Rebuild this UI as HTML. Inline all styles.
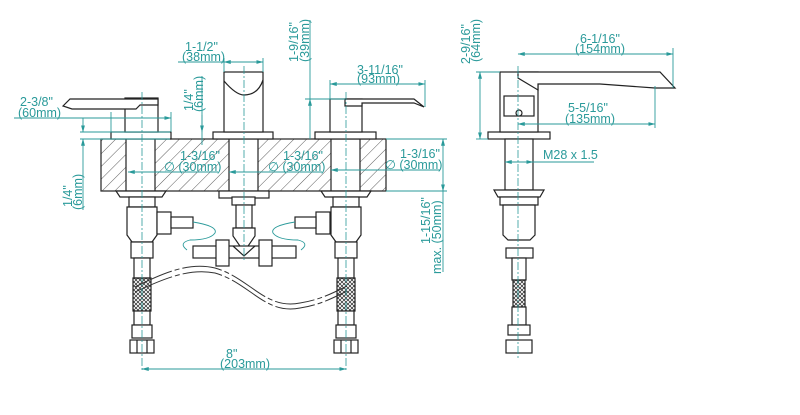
<!DOCTYPE html>
<html><head><meta charset="utf-8"><style>
html,body{margin:0;padding:0;background:#fff}
svg{display:block}
text{font-family:"Liberation Sans",sans-serif;font-size:12.5px;fill:#2a9a9a}
.d{stroke:#2a9a9a;stroke-width:0.9;fill:none}
.o{stroke:#222;stroke-width:1.2;fill:#fff}
.n{stroke:#222;stroke-width:1.2;fill:none}
.c{stroke:#2a9a9a;stroke-width:0.8;stroke-dasharray:8 2 2 2;fill:none}
</style></head><body>
<svg width="800" height="415" viewBox="0 0 800 415" xmlns="http://www.w3.org/2000/svg">
<defs>
<pattern id="h" width="9" height="9" patternUnits="userSpaceOnUse" patternTransform="rotate(45)"><line x1="0" y1="0" x2="0" y2="9" stroke="#333" stroke-width="0.8"/></pattern>
<pattern id="m" width="4" height="4" patternUnits="userSpaceOnUse"><path d="M0 0L4 4M4 0L0 4" stroke="#222" stroke-width="0.7"/></pattern>
<marker id="a" markerWidth="8" markerHeight="6" refX="7.5" refY="3" orient="auto-start-reverse"><path d="M0 0.8L8 3L0 5.2z" fill="#2a9a9a"/></marker>
</defs>
<rect x="101" y="139" width="285" height="52" fill="url(#h)" stroke="#222" stroke-width="1.2"/>
<rect x="126" y="139" width="29" height="52" class="o"/>
<rect x="229" y="139" width="29" height="52" class="o"/>
<rect x="331" y="139" width="29" height="52" class="o"/>
<rect x="111" y="132" width="60" height="7" class="o"/>
<rect x="125" y="98" width="33" height="34" class="o"/>
<path class="o" d="M63 106L70 99H158V105H140L136 109H72Z"/>
<rect x="213" y="132" width="60" height="7" class="o"/>
<rect x="224" y="72" width="39" height="60" class="o"/>
<path class="n" d="M224 81Q236 95 244 95Q258 95 263 80"/>
<rect x="315" y="132" width="61" height="7" class="o"/>
<rect x="330" y="99" width="32" height="33" class="o"/>
<path class="o" d="M345 99H414L424 107L414 103H362V106H345Z"/>
<path class="o" d="M116 191H166L162 197H120Z"/>
<path class="o" d="M321 191H371L367 197H325Z"/>
<rect x="219" y="191" width="50" height="7" class="o"/>
<g id="col">
<rect x="129" y="197" width="26" height="10" class="o"/>
<path class="o" d="M127 207H157V235L152 242H132L127 235Z"/>
<rect x="131" y="242" width="22" height="16" class="o"/>
<rect x="134" y="258" width="16" height="20" class="o"/>
<rect x="133" y="278" width="18" height="33" fill="url(#m)" stroke="#222" stroke-width="1.2"/>
<rect x="134" y="311" width="16" height="14" class="o"/>
<rect x="132" y="325" width="20" height="13" class="o"/>
<rect x="130" y="340" width="24" height="13" class="o"/>
<line class="n" x1="137" y1="340" x2="137" y2="353"/><line class="n" x1="147" y1="340" x2="147" y2="353"/>
</g>
<use href="#col" transform="translate(204,0)"/>
<rect x="157" y="212" width="14" height="22" class="o"/><rect x="171" y="217" width="22" height="11" class="o"/>
<rect x="316" y="212" width="14" height="22" class="o"/><rect x="295" y="217" width="21" height="11" class="o"/>
<rect x="232" y="197" width="23" height="8" class="o"/>
<rect x="236" y="205" width="16" height="23" class="o"/>
<path class="o" d="M233 228H255V236L244 252L233 236Z"/>
<rect x="193" y="246" width="103" height="12" class="o"/>
<rect x="216" y="240" width="13" height="26" class="o"/>
<rect x="259" y="240" width="13" height="26" class="o"/>
<path class="n" d="M233 246L244 256L255 246"/>
<path class="d" d="M193 222Q218 226 215 233Q210 240 190 240Q178 243 187 250"/>
<path class="d" d="M295 222Q270 226 273 233Q278 240 298 240Q310 243 301 250"/>
<g stroke="#333" stroke-width="1" fill="none" stroke-dasharray="40 3 5 3">
<path d="M135 287C165 272 190 262 215 268C250 278 265 310 300 303C320 300 335 292 347 286"/>
<path d="M135 292C165 278 190 268 215 273C250 283 265 315 300 308C320 305 335 297 347 291"/>
</g>
<rect x="488" y="132" width="62" height="7" class="o"/>
<rect x="500" y="72" width="38" height="60" class="o"/>
<path class="o" d="M518 72H660L675 88H655L600 84H538V90L518 78Z"/>
<rect x="504" y="96" width="30" height="20" class="o"/>
<circle cx="519" cy="113" r="3" class="o"/>
<rect x="505" y="139" width="28" height="51" class="o"/>
<path class="o" d="M494 190H544L540 197H498Z"/>
<rect x="500" y="197" width="38" height="8" class="o"/>
<path class="o" d="M503 205H535V235L530 240H508L503 235Z"/>
<rect x="506" y="248" width="27" height="10" class="o"/>
<rect x="512" y="258" width="14" height="22" class="o"/>
<rect x="513" y="280" width="12" height="27" fill="url(#m)" stroke="#222" stroke-width="1.2"/>
<rect x="512" y="307" width="14" height="18" class="o"/>
<rect x="508" y="325" width="22" height="10" class="o"/>
<rect x="506" y="340" width="26" height="13" class="o"/>
<line class="c" x1="142" y1="92" x2="142" y2="372"/>
<line class="c" x1="244" y1="66" x2="244" y2="262"/>
<line class="c" x1="346" y1="92" x2="346" y2="372"/>
<line class="c" x1="518" y1="66" x2="518" y2="360"/>
<line class="d" x1="14" y1="118" x2="171" y2="118" marker-end="url(#a)"/>
<line class="d" x1="111" y1="112" x2="111" y2="132"/><line class="d" x1="171" y1="112" x2="171" y2="132"/>
<text x="20" y="106">2-3/8"</text><text x="18" y="117">(60mm)</text>
<line class="d" x1="80" y1="132" x2="170" y2="132"/><line class="d" x1="80" y1="139" x2="170" y2="139"/>
<line class="d" x1="83" y1="118" x2="83" y2="132" marker-end="url(#a)"/>
<line class="d" x1="83" y1="210" x2="83" y2="139" marker-end="url(#a)"/>
<text transform="translate(72,207) rotate(-90)">1/4"</text><text transform="translate(82,210) rotate(-90)">(6mm)</text>
<line class="d" x1="178" y1="62" x2="263" y2="62"/>
<line class="d" x1="228" y1="62" x2="224" y2="62" marker-end="url(#a)"/>
<line class="d" x1="240" y1="62" x2="263" y2="62" marker-end="url(#a)"/>
<line class="d" x1="224" y1="58" x2="224" y2="72"/><line class="d" x1="263" y1="58" x2="263" y2="72"/>
<text x="185" y="51">1-1/2"</text><text x="182" y="61">(38mm)</text>
<line class="d" x1="202" y1="76" x2="202" y2="145"/>
<line class="d" x1="202" y1="115" x2="202" y2="132" marker-end="url(#a)"/>
<text transform="translate(193,111) rotate(-90)">1/4"</text><text transform="translate(203,112) rotate(-90)">(6mm)</text>
<line class="d" x1="310" y1="20" x2="310" y2="139"/>
<line class="d" x1="310" y1="120" x2="310" y2="99" marker-end="url(#a)"/>
<line class="d" x1="305" y1="99" x2="345" y2="99"/>
<text transform="translate(298,62) rotate(-90)">1-9/16"</text><text transform="translate(309,62) rotate(-90)">(39mm)</text>
<line class="d" x1="330" y1="84" x2="425" y2="84" marker-start="url(#a)" marker-end="url(#a)"/>
<line class="d" x1="330" y1="80" x2="330" y2="99"/><line class="d" x1="425" y1="80" x2="425" y2="107"/>
<text x="357" y="74">3-11/16"</text><text x="357" y="83">(93mm)</text>
<line class="d" x1="128" y1="172" x2="218" y2="172" marker-start="url(#a)"/>
<text x="180" y="160">1-3/16"</text><text x="164" y="171">∅ (30mm)</text>
<line class="d" x1="229" y1="172" x2="322" y2="172" marker-start="url(#a)"/>
<text x="283" y="160">1-3/16"</text><text x="268" y="171">∅ (30mm)</text>
<line class="d" x1="331" y1="170" x2="440" y2="170" marker-start="url(#a)"/>
<text x="400" y="158">1-3/16"</text><text x="385" y="169">∅ (30mm)</text>
<line class="d" x1="386" y1="139" x2="447" y2="139"/><line class="d" x1="386" y1="191" x2="447" y2="191"/>
<line class="d" x1="443" y1="139" x2="443" y2="191" marker-start="url(#a)" marker-end="url(#a)"/>
<line class="d" x1="443" y1="191" x2="443" y2="272"/>
<text transform="translate(430,244) rotate(-90)">1-15/16"</text>
<text transform="translate(441,274) rotate(-90)">max. (50mm)</text>
<line class="d" x1="142" y1="369" x2="346" y2="369" marker-start="url(#a)" marker-end="url(#a)"/>
<text x="226" y="358">8"</text><text x="220" y="368">(203mm)</text>
<line class="d" x1="518" y1="54" x2="673" y2="54" marker-start="url(#a)" marker-end="url(#a)"/>
<line class="d" x1="673" y1="48" x2="673" y2="88"/>
<text x="580" y="43">6-1/16"</text><text x="575" y="53">(154mm)</text>
<line class="d" x1="518" y1="124" x2="655" y2="124" marker-start="url(#a)" marker-end="url(#a)"/>
<line class="d" x1="655" y1="86" x2="655" y2="128"/>
<text x="568" y="112">5-5/16"</text><text x="565" y="123">(135mm)</text>
<line class="d" x1="476" y1="72" x2="500" y2="72"/><line class="d" x1="476" y1="139" x2="488" y2="139"/>
<line class="d" x1="480" y1="72" x2="480" y2="139" marker-start="url(#a)" marker-end="url(#a)"/>
<text transform="translate(470,64) rotate(-90)">2-9/16"</text><text transform="translate(480,62) rotate(-90)">(64mm)</text>
<line class="d" x1="505" y1="162" x2="594" y2="162"/>
<line class="d" x1="515" y1="162" x2="505" y2="162" marker-end="url(#a)"/>
<line class="d" x1="523" y1="162" x2="533" y2="162" marker-end="url(#a)"/>
<text x="543" y="159">M28 x 1.5</text>
</svg>
</body></html>
